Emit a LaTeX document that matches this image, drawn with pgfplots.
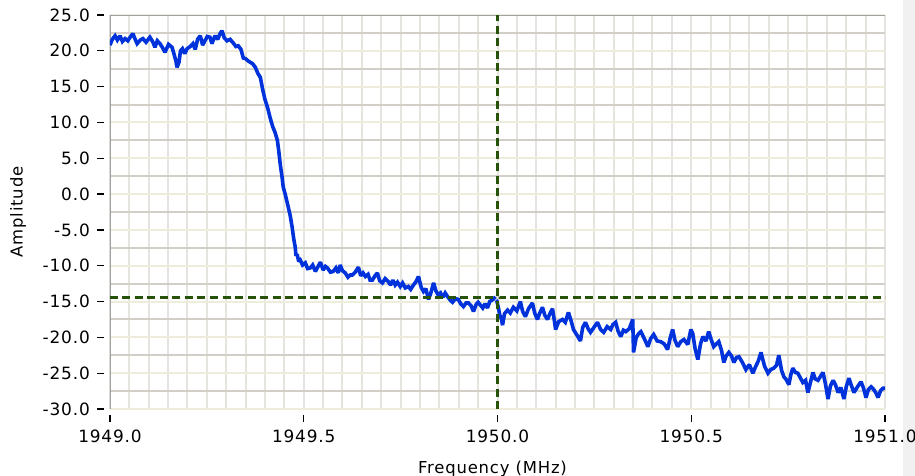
\documentclass[border=0pt]{standalone}
\usepackage{fontspec}
\setmainfont[LetterSpace=5]{DejaVu Sans}
\usepackage{pgfplots}
\pgfplotsset{compat=1.18}

\definecolor{trace}{RGB}{0,50,220}
\definecolor{cursor}{RGB}{38,82,10}
\definecolor{gridgray}{RGB}{210,207,200}
\definecolor{gridbeige}{RGB}{238,236,218}
\definecolor{gridvert}{RGB}{230,228,222}
\definecolor{frame}{RGB}{160,160,160}

\begin{document}
\begin{tikzpicture}
\useasboundingbox (-110bp,-67bp) rectangle (805bp,409bp);
\fill[color={rgb,255:red,241;green,241;blue,241}] (793bp,-67bp) rectangle (805bp,409bp);
\begin{axis}[
  at={(0,0)}, anchor=south west,
  scale only axis, width=775bp, height=394bp,
  xmin=1949, xmax=1951, ymin=-30, ymax=25,
  axis line style={draw=none},
  xtick={1949,1949.5,1950,1950.5,1951},
  ytick={-30,-25,...,25},
  minor x tick num=9, minor y tick num=1,
  grid=both,
  major x grid style={gridvert, line width=2bp},
  minor x grid style={gridvert, line width=2bp},
  major y grid style={gridbeige, line width=2bp},
  minor y grid style={gridgray, line width=2bp},
  tick align=outside, tickpos=left,
  major tick length=7bp, minor tick length=0pt,
  every major x tick/.append style={yshift=-6bp, line width=1.3bp, black},
  every major y tick/.append style={xshift=-6bp, line width=1.3bp, black},
  /pgf/number format/.cd, fixed, fixed zerofill, precision=1, 1000 sep={}, assume math mode=true,
  /pgfplots/.cd,
  tick label style={font=\fontsize{17}{20}\selectfont, black},
  yticklabel style={inner sep=2bp, xshift=-11bp},
  xticklabel style={inner sep=2bp, yshift=-12bp},
  xlabel={Frequency (MHz)},
  ylabel={Amplitude},
  every axis x label/.style={at={(axis description cs:0.4935,-0.163)}, anchor=base,
    font=\fontsize{16.5}{19}\selectfont},
  every axis y label/.style={at={(axis description cs:-0.1187,0.5)}, anchor=center,
    rotate=90, font=\fontsize{16.5}{19}\selectfont},
]
% frame: left axis line and top border
\draw[frame, line width=2.2bp] (rel axis cs:0,0) -- (rel axis cs:0,1) -- (rel axis cs:1,1);

% measured spectrum
\addplot[trace, line width=3.6bp, line join=miter, miter limit=2] coordinates {
(1949.000,20.8) (1949.006,21.6) (1949.013,22.1) (1949.019,21.5) (1949.026,22.1)
(1949.032,21.3) (1949.039,21.7) (1949.046,21.4) (1949.052,21.9) (1949.059,22.4)
(1949.065,21.6) (1949.070,21.0) (1949.078,21.5) (1949.085,21.7) (1949.093,21.2)
(1949.103,21.9) (1949.110,21.3) (1949.116,20.5) (1949.122,21.4) (1949.129,21.0)
(1949.136,20.4) (1949.142,19.8) (1949.151,20.9) (1949.160,20.5) (1949.166,19.4)
(1949.170,18.6) (1949.173,17.7) (1949.178,18.4) (1949.182,20.0) (1949.187,20.3)
(1949.193,19.6) (1949.199,20.3) (1949.207,20.6) (1949.214,21.0) (1949.220,20.2)
(1949.226,21.6) (1949.233,22.1) (1949.239,20.8) (1949.245,21.4) (1949.251,22.0)
(1949.258,21.9) (1949.263,21.0) (1949.271,22.1) (1949.278,21.6) (1949.284,22.4)
(1949.289,22.8) (1949.295,21.8) (1949.302,21.4) (1949.310,21.6) (1949.318,21.1)
(1949.325,20.6) (1949.331,20.7) (1949.338,20.2) (1949.344,19.0) (1949.350,18.9)
(1949.356,18.6) (1949.362,18.4) (1949.368,18.2) (1949.375,17.7) (1949.382,16.8)
(1949.388,16.3) (1949.394,14.6) (1949.400,13.2) (1949.407,12.0) (1949.413,10.7)
(1949.420,9.4) (1949.426,8.6) (1949.432,7.5) (1949.436,5.8) (1949.439,4.3)
(1949.444,2.4) (1949.447,1.0) (1949.452,0.0) (1949.460,-1.8) (1949.465,-3.0)
(1949.470,-4.6) (1949.474,-6.2) (1949.478,-7.4) (1949.480,-8.6) (1949.483,-8.4)
(1949.487,-9.4) (1949.491,-9.2) (1949.497,-9.9) (1949.504,-9.6) (1949.510,-10.4)
(1949.517,-10.3) (1949.523,-9.9) (1949.530,-10.8) (1949.536,-10.2) (1949.543,-9.5)
(1949.550,-10.6) (1949.556,-10.1) (1949.561,-10.3) (1949.569,-10.9) (1949.576,-10.8)
(1949.583,-10.3) (1949.589,-11.0) (1949.594,-9.9) (1949.600,-10.7) (1949.607,-11.0)
(1949.614,-11.6) (1949.620,-11.3) (1949.625,-11.3) (1949.633,-10.9) (1949.641,-10.2)
(1949.647,-11.4) (1949.653,-11.0) (1949.659,-11.5) (1949.666,-11.2) (1949.671,-12.0)
(1949.677,-12.0) (1949.684,-11.4) (1949.690,-11.0) (1949.696,-12.1) (1949.703,-12.4)
(1949.710,-11.8) (1949.718,-12.2) (1949.724,-12.7) (1949.730,-12.0) (1949.736,-12.7)
(1949.742,-12.3) (1949.749,-12.9) (1949.755,-12.4) (1949.762,-13.1) (1949.770,-12.9)
(1949.776,-13.3) (1949.783,-12.7) (1949.790,-12.2) (1949.796,-11.5) (1949.803,-13.0)
(1949.809,-13.6) (1949.815,-13.2) (1949.822,-14.7) (1949.828,-13.8) (1949.835,-12.4)
(1949.841,-13.5) (1949.847,-14.1) (1949.853,-13.8) (1949.859,-14.4) (1949.865,-13.8)
(1949.871,-14.3) (1949.878,-14.8) (1949.884,-15.1) (1949.891,-14.6) (1949.899,-14.7)
(1949.905,-15.3) (1949.912,-15.7) (1949.919,-15.2) (1949.925,-15.2) (1949.932,-15.6)
(1949.938,-16.4) (1949.945,-15.4) (1949.950,-15.1) (1949.956,-15.5) (1949.962,-15.9)
(1949.968,-15.3) (1949.974,-15.9) (1949.980,-15.0) (1949.986,-14.8) (1949.992,-14.5)
(1949.997,-14.6) (1950.002,-15.8) (1950.006,-16.9) (1950.010,-17.4) (1950.013,-18.3)
(1950.018,-16.7) (1950.026,-16.2) (1950.033,-16.6) (1950.041,-15.8) (1950.050,-16.3)
(1950.059,-15.0) (1950.065,-16.4) (1950.072,-17.1) (1950.080,-16.0) (1950.090,-15.2)
(1950.096,-16.6) (1950.103,-17.5) (1950.110,-16.5) (1950.116,-15.8) (1950.122,-16.9)
(1950.129,-17.5) (1950.136,-16.6) (1950.142,-16.0) (1950.146,-17.4) (1950.150,-18.9)
(1950.158,-17.8) (1950.168,-17.5) (1950.175,-17.9) (1950.183,-16.5) (1950.190,-17.7)
(1950.196,-18.9) (1950.204,-19.6) (1950.214,-20.5) (1950.220,-18.6) (1950.227,-17.9)
(1950.234,-18.8) (1950.240,-19.3) (1950.249,-18.6) (1950.258,-17.9) (1950.266,-18.9)
(1950.274,-19.3) (1950.283,-18.5) (1950.292,-18.9) (1950.298,-18.2) (1950.305,-17.9)
(1950.311,-19.1) (1950.318,-19.9) (1950.325,-19.0) (1950.331,-19.2) (1950.340,-18.8)
(1950.349,-17.5) (1950.351,-22.1) (1950.358,-20.0) (1950.364,-19.5) (1950.370,-19.2)
(1950.379,-20.2) (1950.388,-21.3) (1950.395,-20.2) (1950.403,-19.6) (1950.412,-20.5)
(1950.421,-20.6) (1950.430,-20.9) (1950.439,-21.7) (1950.446,-20.0) (1950.452,-18.9)
(1950.458,-20.4) (1950.465,-21.3) (1950.473,-20.6) (1950.481,-20.3) (1950.491,-21.0)
(1950.499,-18.9) (1950.504,-19.5) (1950.510,-21.6) (1950.517,-23.1) (1950.524,-20.9)
(1950.530,-19.9) (1950.538,-20.5) (1950.545,-19.2) (1950.552,-20.4) (1950.558,-21.3)
(1950.565,-20.9) (1950.571,-20.6) (1950.578,-21.8) (1950.584,-23.5) (1950.590,-22.6)
(1950.597,-22.1) (1950.604,-22.6) (1950.610,-23.5) (1950.617,-22.8) (1950.623,-22.7)
(1950.632,-23.5) (1950.641,-24.5) (1950.650,-23.8) (1950.659,-25.0) (1950.666,-24.1)
(1950.673,-23.3) (1950.680,-22.1) (1950.689,-24.0) (1950.698,-25.0) (1950.705,-24.5)
(1950.713,-24.3) (1950.720,-23.9) (1950.726,-22.5) (1950.733,-24.6) (1950.739,-25.5)
(1950.745,-25.9) (1950.752,-26.6) (1950.757,-25.2) (1950.762,-24.3) (1950.769,-24.9)
(1950.775,-25.0) (1950.781,-25.6) (1950.788,-26.3) (1950.795,-26.0) (1950.801,-27.7)
(1950.808,-26.2) (1950.814,-24.9) (1950.820,-25.8) (1950.827,-26.0) (1950.834,-25.4)
(1950.840,-24.9) (1950.846,-26.4) (1950.853,-28.6) (1950.859,-26.8) (1950.866,-26.0)
(1950.872,-26.6) (1950.879,-27.7) (1950.886,-27.0) (1950.894,-28.6) (1950.900,-26.9)
(1950.907,-25.7) (1950.913,-26.7) (1950.920,-27.7) (1950.929,-26.9) (1950.938,-26.2)
(1950.944,-27.0) (1950.951,-28.4) (1950.957,-27.3) (1950.964,-26.9) (1950.970,-27.2)
(1950.977,-27.8) (1950.982,-28.4) (1950.989,-27.4) (1950.995,-27.1) (1951.000,-27.1)
};

% cursor cross-hair
\addplot[cursor, line width=3bp, dash pattern=on 8bp off 4.5bp] coordinates {(1949,-14.5) (1951,-14.5)};
\addplot[cursor, line width=3bp, dash pattern=on 8bp off 4.5bp] coordinates {(1950,-30) (1950,25)};
\addplot[only marks, mark=x, mark size=3.5bp, color={rgb,255:red,225;green,225;blue,215}, line width=1bp] coordinates {(1950,-14.5)};
\end{axis}
\end{tikzpicture}
\end{document}
